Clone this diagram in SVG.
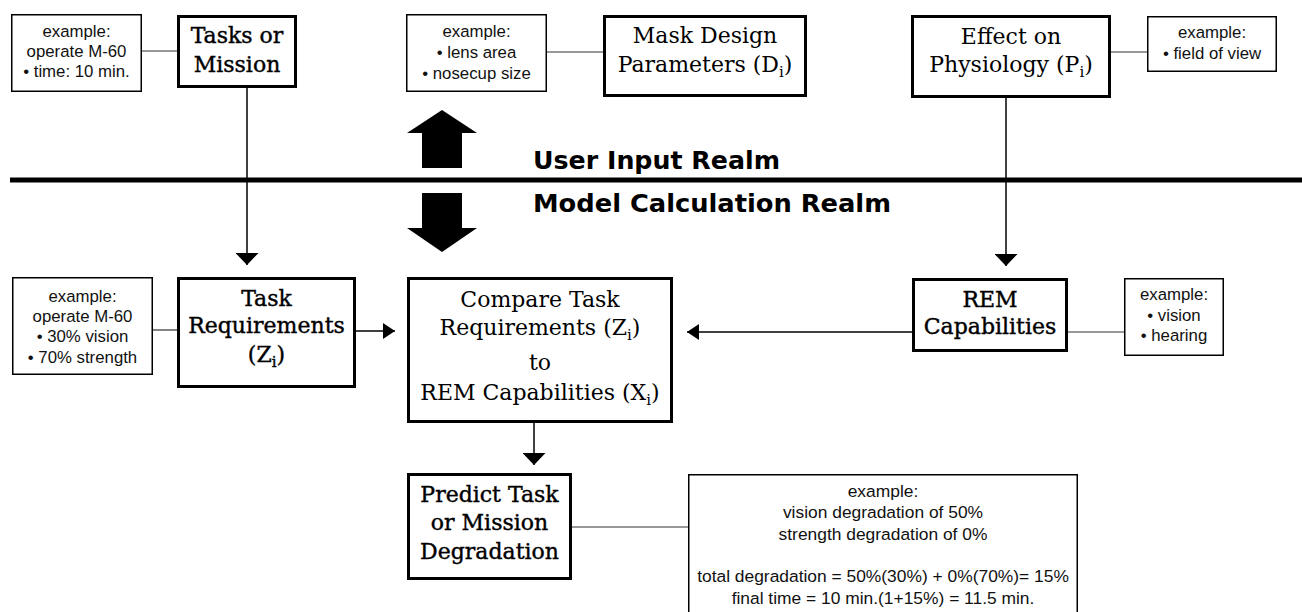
<svg xmlns="http://www.w3.org/2000/svg" width="1302" height="612" viewBox="0 0 1302 612">
<style>
.box{fill:#fff;stroke:#000;stroke-width:3}
.ex{fill:#fff;stroke:#000;stroke-width:1.5}
.t{font-family:"DejaVu Serif","Liberation Serif",serif;font-size:22px;fill:#000;text-anchor:middle}
.b{stroke:#000;stroke-width:0.4}
.s{font-family:"Liberation Sans",Arial,sans-serif;font-size:16.8px;fill:#111;text-anchor:middle}
.big{font-size:17.4px}
.realm{font-family:"DejaVu Sans","Liberation Sans",sans-serif;font-size:24px;font-weight:bold;fill:#000}
.ln{stroke:#000;stroke-width:1.5;fill:none}
.thin{stroke:#333;stroke-width:1.2;fill:none}
.sub{font-size:15px}
</style>
<defs>
<marker id="ah" markerWidth="12" markerHeight="16" viewBox="0 0 12 16" refX="12" refY="8" orient="auto" markerUnits="userSpaceOnUse">
<path d="M0,0 L12,8 L0,16 Z" fill="#000"/>
</marker>
<marker id="av" markerWidth="12" markerHeight="23" viewBox="0 0 12 23" refX="12" refY="11.5" orient="auto" markerUnits="userSpaceOnUse">
<path d="M0,0 L12,11.5 L0,23 Z" fill="#000"/>
</marker>
</defs>

<g id="realm-divider">
<rect x="10" y="177.5" width="1292" height="5" fill="#000"/>
<text class="realm" x="533" y="169" textLength="247" lengthAdjust="spacingAndGlyphs">User Input Realm</text>
<text class="realm" x="533" y="212" textLength="358" lengthAdjust="spacingAndGlyphs">Model Calculation Realm</text>
<path d="M442,110 L477,133 L462,133 L462,168 L422,168 L422,133 L407,133 Z" fill="#000"/>
<path d="M422,193 L462,193 L462,228 L477,228 L442,252 L407,228 L422,228 Z" fill="#000"/>
</g>

<g id="connectors">
<line class="thin" x1="142" y1="51" x2="177" y2="51"/>
<line class="thin" x1="547" y1="52" x2="603" y2="52"/>
<line class="thin" x1="1111" y1="52" x2="1147" y2="52"/>
<line class="thin" x1="153" y1="330" x2="177" y2="330"/>
<line class="thin" x1="1068" y1="332" x2="1124" y2="332"/>
<line class="thin" x1="572" y1="527" x2="688" y2="527"/>
<line class="ln" x1="247" y1="88" x2="247" y2="265" marker-end="url(#av)"/>
<line class="ln" x1="1006" y1="98" x2="1006" y2="266" marker-end="url(#av)"/>
<line class="ln" x1="356" y1="331" x2="395" y2="331" marker-end="url(#ah)"/>
<line class="ln" x1="912" y1="332" x2="687" y2="332" marker-end="url(#ah)"/>
<line class="ln" x1="534" y1="423" x2="534" y2="465" marker-end="url(#av)"/>
</g>

<g id="tasks-example">
<rect class="ex" x="11.75" y="14.75" width="129.5" height="76.5"/>
<text class="s" x="76.5" y="37">example:</text>
<text class="s" x="76.5" y="57">operate M-60</text>
<text class="s" x="76.5" y="77">• time: 10 min.</text>
</g>

<g id="tasks">
<rect class="box" x="178.5" y="16.5" width="117" height="70"/>
<text class="t b" x="237" y="43">Tasks or</text>
<text class="t b" x="237" y="72">Mission</text>
</g>

<g id="mask-example">
<rect class="ex" x="406.75" y="14.75" width="139.5" height="76.5"/>
<text class="s" x="476.5" y="37">example:</text>
<text class="s" x="476.5" y="58">• lens area</text>
<text class="s" x="476.5" y="79">• nosecup size</text>
</g>

<g id="mask">
<rect class="box" x="604.5" y="16.5" width="201" height="79"/>
<text class="t" x="705" y="43">Mask Design</text>
<text class="t" x="705" y="72">Parameters (D<tspan class="sub" dy="5">i</tspan><tspan dy="-5">)</tspan></text>
</g>

<g id="effect">
<rect class="box" x="912.5" y="16.5" width="197" height="80"/>
<text class="t" x="1011" y="44">Effect on</text>
<text class="t" x="1011" y="72">Physiology (P<tspan class="sub" dy="5">i</tspan><tspan dy="-5">)</tspan></text>
</g>

<g id="effect-example">
<rect class="ex" x="1147.75" y="16.75" width="128.5" height="54.5"/>
<text class="s" x="1212" y="38">example:</text>
<text class="s" x="1212" y="59">• field of view</text>
</g>

<g id="taskreq-example">
<rect class="ex" x="12.75" y="277.75" width="139.5" height="96.5"/>
<text class="s" x="82.5" y="302">example:</text>
<text class="s" x="82.5" y="322">operate M-60</text>
<text class="s" x="82.5" y="342">• 30% vision</text>
<text class="s" x="82.5" y="363">• 70% strength</text>
</g>

<g id="task-requirements">
<rect class="box" x="178.5" y="278.5" width="176" height="108"/>
<text class="t b" x="266.5" y="306">Task</text>
<text class="t b" x="266.5" y="333">Requirements</text>
<text class="t b" x="266.5" y="362">(Z<tspan class="sub" dy="5">i</tspan><tspan dy="-5">)</tspan></text>
</g>

<g id="compare">
<rect class="box" x="408.5" y="278.5" width="263" height="143"/>
<text class="t" x="540" y="307">Compare Task</text>
<text class="t" x="540" y="335">Requirements (Z<tspan class="sub" dy="5">i</tspan><tspan dy="-5">)</tspan></text>
<text class="t" x="540" y="370">to</text>
<text class="t" x="540" y="400">REM Capabilities (X<tspan class="sub" dy="5">i</tspan><tspan dy="-5">)</tspan></text>
</g>

<g id="rem">
<rect class="box" x="913.5" y="279.5" width="153" height="71"/>
<text class="t b" x="990" y="307">REM</text>
<text class="t b" x="990" y="334">Capabilities</text>
</g>

<g id="rem-example">
<rect class="ex" x="1124.75" y="278.75" width="98.5" height="76.5"/>
<text class="s" x="1174" y="300">example:</text>
<text class="s" x="1174" y="321">• vision</text>
<text class="s" x="1174" y="341">• hearing</text>
</g>

<g id="predict">
<rect class="box" x="408.5" y="474.5" width="162" height="104"/>
<text class="t b" x="489.5" y="502">Predict Task</text>
<text class="t b" x="489.5" y="530">or Mission</text>
<text class="t b" x="489.5" y="559">Degradation</text>
</g>

<g id="predict-example">
<rect class="ex" x="688.75" y="474.75" width="388.5" height="150"/>
<text class="s big" x="883" y="497">example:</text>
<text class="s big" x="883" y="518">vision degradation of 50%</text>
<text class="s big" x="883" y="540">strength degradation of 0%</text>
<text class="s big" x="883" y="582">total degradation = 50%(30%) + 0%(70%)= 15%</text>
<text class="s big" x="883" y="604">final time = 10 min.(1+15%) = 11.5 min.</text>
</g>
</svg>
